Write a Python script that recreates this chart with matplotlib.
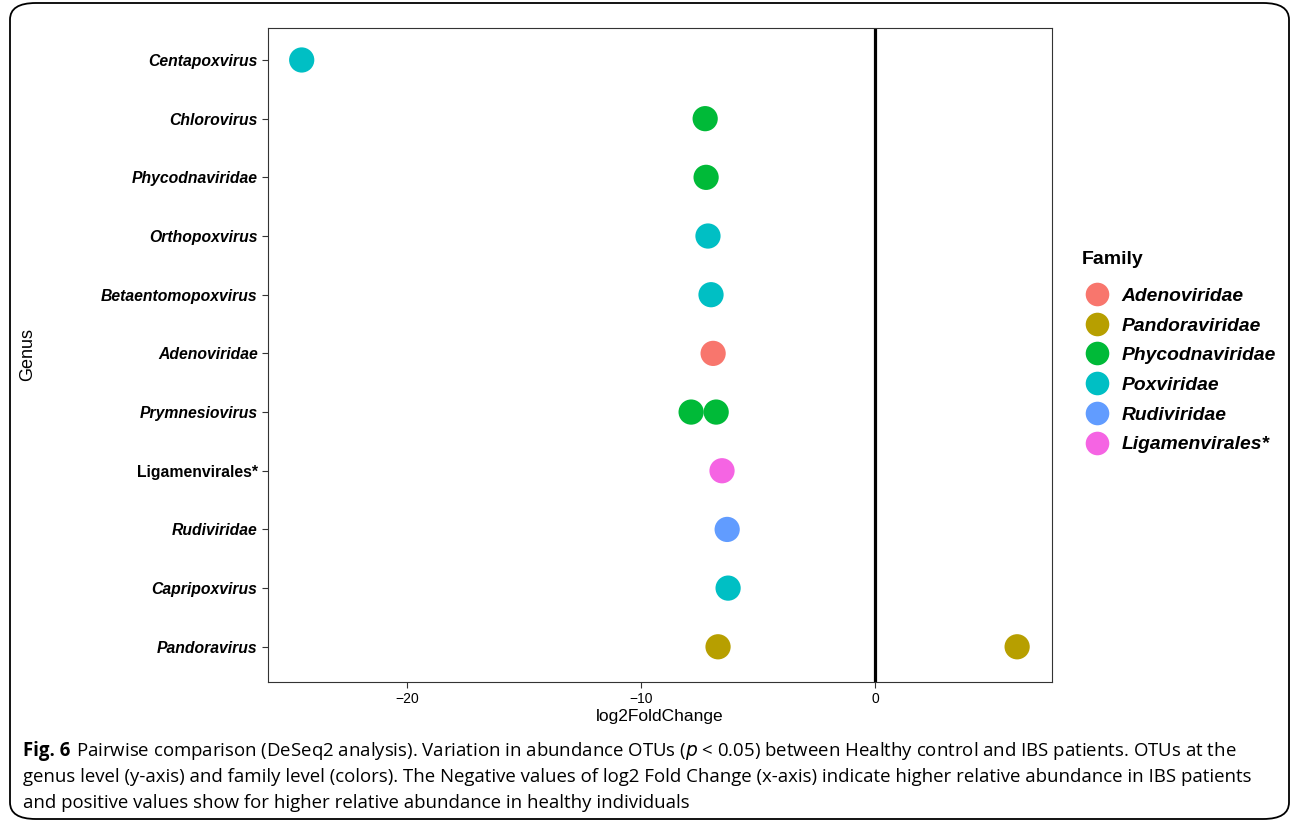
import matplotlib.pyplot as plt
import matplotlib.patches as mpatches
from matplotlib.lines import Line2D

plt.rcParams['font.family'] = ['Liberation Sans', 'DejaVu Sans']

# genus order, bottom to top
genera = ['Pandoravirus', 'Capripoxvirus', 'Rudiviridae', 'Ligamenvirales*',
          'Prymnesiovirus', 'Adenoviridae', 'Betaentomopoxvirus',
          'Orthopoxvirus', 'Phycodnaviridae', 'Chlorovirus', 'Centapoxvirus']

# one entry per OTU
point_genus = ['Centapoxvirus', 'Chlorovirus', 'Phycodnaviridae', 'Orthopoxvirus',
               'Betaentomopoxvirus', 'Adenoviridae', 'Prymnesiovirus',
               'Prymnesiovirus', 'Ligamenvirales*', 'Rudiviridae',
               'Capripoxvirus', 'Pandoravirus', 'Pandoravirus']
point_lfc = [-24.5, -7.26, -7.22, -7.14, -7.01, -6.92, -7.86, -6.79,
             -6.54, -6.32, -6.28, -6.71, 6.07]
point_family = ['Poxviridae', 'Phycodnaviridae', 'Phycodnaviridae', 'Poxviridae',
                'Poxviridae', 'Adenoviridae', 'Phycodnaviridae', 'Phycodnaviridae',
                'Ligamenvirales*', 'Rudiviridae', 'Poxviridae',
                'Pandoraviridae', 'Pandoraviridae']

families = ['Adenoviridae', 'Pandoraviridae', 'Phycodnaviridae', 'Poxviridae',
            'Rudiviridae', 'Ligamenvirales*']
fam_colors = ['#F8766D', '#B79F00', '#00BA38', '#00BFC4', '#619CFF', '#F564E3']
color_of = dict(zip(families, fam_colors))

fig = plt.figure(figsize=(12.92, 8.27), dpi=100)

# rounded frame around the whole figure
W, H = 1292, 827
frame = mpatches.FancyBboxPatch((10 / W, 8 / H), 1279 / W, 816 / H,
                                boxstyle='round,pad=0,rounding_size=0.02',
                                transform=fig.transFigure, fill=False,
                                edgecolor='black', linewidth=1.3)
fig.patches.append(frame)

ax = fig.add_axes([268 / W, 1 - 682 / H, 784 / W, 654 / H])
ax.axvline(0, color='black', linewidth=2.3, zorder=1)

ypos = {g: i for i, g in enumerate(genera)}
ax.scatter(point_lfc, [ypos[g] for g in point_genus],
           c=[color_of[f] for f in point_family], s=330, linewidths=0, zorder=3)

ax.set_xlim(-25.94, 7.56)
ax.set_ylim(-0.6, 10.545)
ax.set_xticks([-20, -10, 0])
ax.set_xticklabels(['\u221220', '\u221210', '0'], fontsize=10)
ax.set_yticks(range(len(genera)))
ax.set_yticklabels(genera, fontsize=11.3, fontweight='bold')
for lab in ax.get_yticklabels():
    if lab.get_text() != 'Ligamenvirales*':
        lab.set_fontstyle('italic')
ax.tick_params(length=4, color='#333333', labelcolor='black')
for sp in ax.spines.values():
    sp.set_color('#333333')
    sp.set_linewidth(0.8)
ax.set_xlabel('log2FoldChange', fontsize=12.5, labelpad=2)
ax.set_ylabel('Genus', fontsize=13, labelpad=0)
ax.yaxis.set_label_coords((36 - 268) / 784, 0.5)

# legend: title as its own text, entries from fig.legend
fig.text(1082 / W, 1 - 259 / H, 'Family', fontsize=14, fontweight='bold',
         va='center', ha='left')
handles = [Line2D([], [], marker='o', linestyle='', markersize=17,
                  markerfacecolor=c, markeredgewidth=0, label=f)
           for f, c in zip(families, fam_colors)]
leg = fig.legend(handles=handles, loc='upper left',
                 bbox_to_anchor=(1068 / W, 1 - 270 / H), frameon=False,
                 prop={'size': 13.9, 'weight': 'bold', 'style': 'italic'},
                 handletextpad=0.68, labelspacing=0.63, handlelength=1.2)

# caption
cap_font = ['Open Sans', 'DejaVu Sans']
cap_size = 13.4
lines = ['Pairwise comparison (DeSeq2 analysis). Variation in abundance OTUs '
         '($p$ < 0.05) between Healthy control and IBS patients. OTUs at the',
         'genus level (y-axis) and family level (colors). The Negative values of '
         'log2 Fold Change (x-axis) indicate higher relative abundance in IBS patients',
         'and positive values show for higher relative abundance in healthy individuals']
fig_lab = fig.text(23 / W, 1 - 751 / H, 'Fig. 6', fontsize=cap_size,
                   fontweight='bold', family=cap_font, va='center')
renderer = fig.canvas.get_renderer()
bb = fig_lab.get_window_extent(renderer)
fig.text((bb.x1 + 6) / W, 1 - 751 / H, lines[0], fontsize=cap_size,
         family=cap_font, va='center')
fig.text(23 / W, 1 - 777 / H, lines[1], fontsize=cap_size, family=cap_font,
         va='center')
fig.text(23 / W, 1 - 803 / H, lines[2], fontsize=cap_size, family=cap_font,
         va='center')

fig.savefig('out.png', dpi=100)
